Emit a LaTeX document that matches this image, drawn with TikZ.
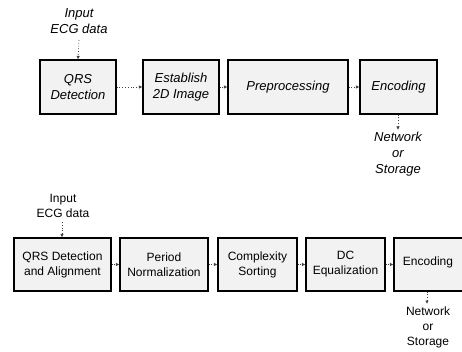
\documentclass[tikz,border=0pt]{standalone}
\usepackage{fontspec}
\setmainfont{Liberation Sans}
\usetikzlibrary{arrows.meta}
\begin{document}
\begin{tikzpicture}[x=1pt,y=-1pt,
  blk/.style={draw=black,line width=1.1pt,fill=black!5,inner sep=0pt},
  toptxt/.style={font=\fontsize{13}{16}\selectfont\itshape,align=center},
  bottxt/.style={font=\fontsize{12}{15}\selectfont,align=center},
  flow/.style={draw=black!75,line width=0.8pt,dotted,-{Latex[length=3.5pt,width=3.5pt]}}
]
\useasboundingbox (0,0) rectangle (462,352);
\clip (0,0) rectangle (462,352);
% top row
\node[toptxt] (in1) at (79,21) {Input\\ECG data};
\node[blk,minimum width=76pt,minimum height=54pt] (a1) at (78,87) {};
\node[toptxt] at (a1) {QRS\\Detection};
\node[blk,minimum width=76pt,minimum height=54pt] (a2) at (181,87) {};
\node[toptxt] at (a2) {Establish\\2D Image};
\node[blk,minimum width=120pt,minimum height=54pt] (a3) at (288,87) {};
\node[toptxt] at (a3) {Preprocessing};
\node[blk,minimum width=77pt,minimum height=54pt] (a4) at (398.5,87) {};
\node[toptxt] at (a4) {Encoding};
\node[toptxt] (out1) at (398,154) {Network\\or\\Storage};
\coordinate (i1) at (79,40);
\coordinate (o1) at (398,130);
\draw[flow] (i1) -- (a1.north);
\draw[flow] (a1) -- (a2);
\draw[flow] (a2) -- (a3);
\draw[flow] (a3) -- (a4);
\draw[flow] (a4.south -| o1) -- (o1);
% bottom row
\node[bottxt] (in2) at (63,206) {Input\\ECG data};
\node[blk,minimum width=97pt,minimum height=53pt] (b1) at (62.5,264.5) {};
\node[bottxt] at (b1) {QRS Detection\\and Alignment};
\node[blk,minimum width=88pt,minimum height=53pt] (b2) at (164,264.5) {};
\node[bottxt] at (b2) {Period\\Normalization};
\node[blk,minimum width=79pt,minimum height=53pt] (b3) at (257.5,264.5) {};
\node[bottxt] at (b3) {Complexity\\Sorting};
\node[blk,minimum width=79pt,minimum height=53pt] (b4) at (345.5,264.5) {};
\node[bottxt] at (b4) {DC\\Equalization};
\node[blk,minimum width=69pt,minimum height=53pt] (b5) at (428.5,264.5) {};
\node[bottxt] at (428,262) {Encoding};
\node[bottxt] (out2) at (428,327) {Network\\or\\Storage};
\coordinate (i2) at (62,222);
\coordinate (o2) at (427,304);
\draw[flow] (i2) -- (b1.north -| i2);
\draw[flow] (b1) -- (b2);
\draw[flow] (b2) -- (b3);
\draw[flow] (b3) -- (b4);
\draw[flow] (b4) -- (b5);
\draw[flow] (b5.south -| o2) -- (o2);
\end{tikzpicture}
\end{document}
